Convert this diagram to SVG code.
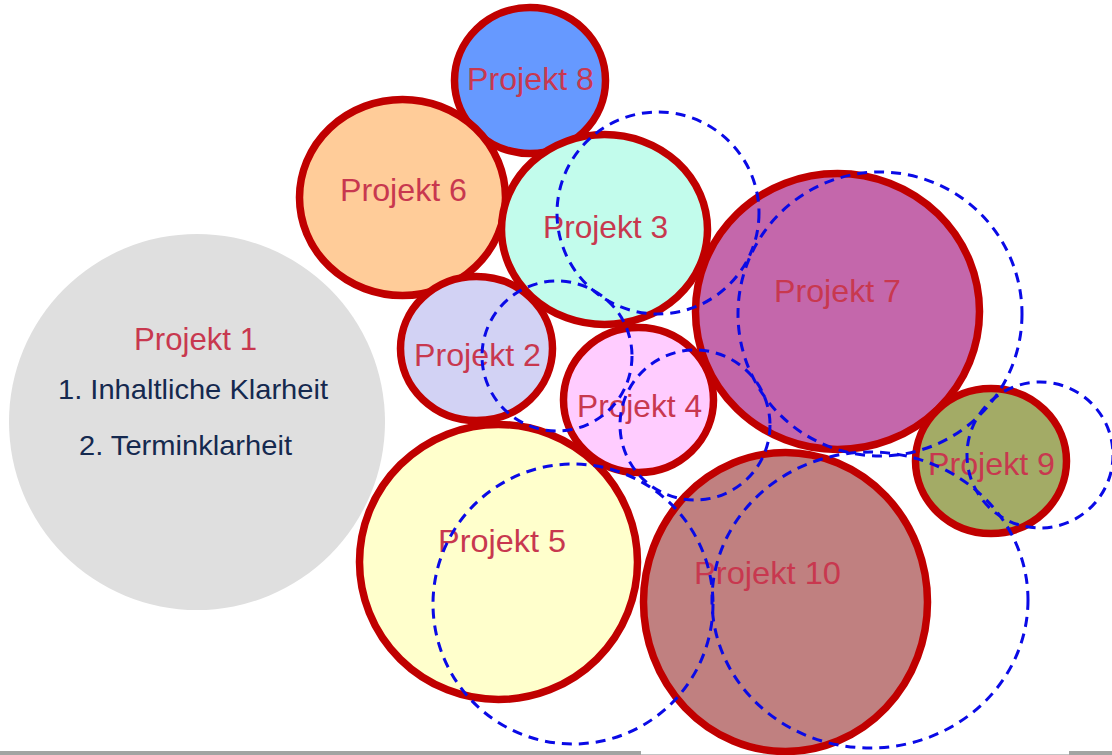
<svg xmlns="http://www.w3.org/2000/svg" width="1112" height="755" viewBox="0 0 1112 755">
<style>
.ring{stroke:#c00000;stroke-width:7.5}
.lbl{font-family:"Liberation Sans",Arial,sans-serif;font-size:32px;fill:#c8384f;text-anchor:start}
.body{font-family:"Liberation Sans",Arial,sans-serif;font-size:28px;fill:#15294f}
.dash{fill:none;stroke:#0a0ae6;stroke-width:3;stroke-dasharray:10 7}
</style>
<rect width="1112" height="755" fill="#ffffff"/>
<g id="baseline">
<rect x="0" y="751" width="641" height="4" fill="#a2a4a2"/>
<rect x="1069" y="751" width="43" height="4" fill="#a2a4a2"/>
<rect x="641" y="754" width="428" height="1" fill="#c4c4c4"/>
</g>
<g id="projekt1">
<circle cx="197" cy="422" r="188" fill="#dfdfdf"/>
<text class="lbl" x="134" y="350" textLength="123" lengthAdjust="spacingAndGlyphs">Projekt 1</text>
<text class="body" x="58" y="399" textLength="270" lengthAdjust="spacingAndGlyphs">1. Inhaltliche Klarheit</text>
<text class="body" x="79" y="455" textLength="213" lengthAdjust="spacingAndGlyphs">2. Terminklarheit</text>
</g>
<g id="projekt8">
<ellipse class="ring" cx="530" cy="80.5" rx="75.5" ry="73" fill="#6699ff"/>
<text class="lbl" x="467" y="90" textLength="127" lengthAdjust="spacingAndGlyphs">Projekt 8</text>
</g>
<g id="projekt6">
<ellipse class="ring" cx="402.5" cy="197.5" rx="103" ry="98" fill="#ffcc99"/>
<text class="lbl" x="340" y="201" textLength="127" lengthAdjust="spacingAndGlyphs">Projekt 6</text>
</g>
<g id="projekt3">
<ellipse class="ring" cx="604.5" cy="229.5" rx="103" ry="95" fill="#c2fcec"/>
<text class="lbl" x="543" y="238" textLength="125" lengthAdjust="spacingAndGlyphs">Projekt 3</text>
</g>
<g id="projekt2">
<ellipse class="ring" cx="476.5" cy="348.5" rx="76" ry="72" fill="#d2d2f4"/>
<text class="lbl" x="414" y="366" textLength="127" lengthAdjust="spacingAndGlyphs">Projekt 2</text>
</g>
<g id="projekt4">
<ellipse class="ring" cx="638.5" cy="400" rx="75" ry="72.5" fill="#ffccff"/>
<text class="lbl" x="577" y="417" textLength="125" lengthAdjust="spacingAndGlyphs">Projekt 4</text>
</g>
<g id="projekt7">
<ellipse class="ring" cx="837.5" cy="311.5" rx="142" ry="138" fill="#c467ab"/>
<text class="lbl" x="774" y="302" textLength="127" lengthAdjust="spacingAndGlyphs">Projekt 7</text>
</g>
<g id="projekt9">
<ellipse class="ring" cx="991" cy="461" rx="75.5" ry="72.5" fill="#a3ab66"/>
<text class="lbl" x="928" y="475" textLength="127" lengthAdjust="spacingAndGlyphs">Projekt 9</text>
</g>
<g id="projekt5">
<ellipse class="ring" cx="498.5" cy="562" rx="139" ry="137.5" fill="#ffffcc"/>
<text class="lbl" x="438" y="552" textLength="128" lengthAdjust="spacingAndGlyphs">Projekt 5</text>
</g>
<g id="projekt10">
<ellipse class="ring" cx="785.5" cy="602" rx="142" ry="149.5" fill="#c08080"/>
<text class="lbl" x="694" y="584" textLength="147" lengthAdjust="spacingAndGlyphs">Projekt 10</text>
</g>
<g id="connectors">
<circle class="dash" cx="658" cy="213" r="101"/>
<circle class="dash" cx="557" cy="356" r="75"/>
<circle class="dash" cx="880" cy="314" r="142"/>
<circle class="dash" cx="1040" cy="455" r="73"/>
<circle class="dash" cx="573" cy="604" r="140"/>
<ellipse class="dash" cx="870" cy="600" rx="158" ry="148"/>
<circle class="dash" cx="695" cy="425" r="75"/>
</g>
</svg>
